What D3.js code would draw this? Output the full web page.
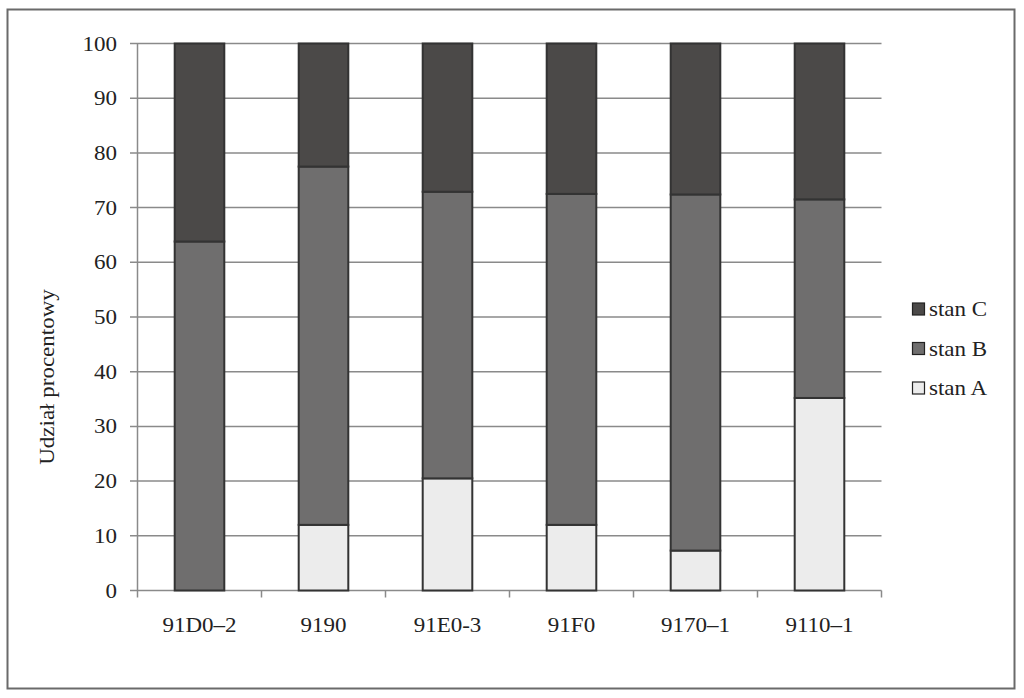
<!DOCTYPE html>
<html><head><meta charset="utf-8">
<script src="https://cdn.jsdelivr.net/npm/d3@7"></script>
<style>body{margin:0;background:#fff}svg{display:block}</style>
</head><body>
<svg id="c" width="1024" height="698"></svg>
<script>
const categories = ["91D0\u20132","9190","91E0-3","91F0","9170\u20131","9110\u20131"];
const stanA = [0, 12, 20.5, 12, 7.3, 35.2];
const stanB = [63.8, 65.5, 52.4, 60.5, 65.1, 36.3];
const stanC = [36.2, 22.5, 27.1, 27.5, 27.6, 28.5];
const seriesNames = ["stan A","stan B","stan C"];
const seriesColors = ["#ececec","#6f6e6e","#4b4948"];
const yTicks = [0,10,20,30,40,50,60,70,80,90,100];

const svg = d3.select("#c");
const font = "'Liberation Serif','Times New Roman',serif";
const fs = 20, sx = 1.15;
svg.append("rect").attr("x",7.5).attr("y",9.5).attr("width",1007).attr("height",679)
  .attr("fill","#fff").attr("stroke","#6a6a6a").attr("stroke-width",2);

const x = d3.scaleBand().domain(categories).range([137.5,881.5]).paddingInner(0.6).paddingOuter(0.3);
const y = d3.scaleLinear().domain([0,100]).range([590.5,43.5]);

function txt(g, tx, ty, rot, anchor, s){
  return g.append("text").attr("transform",`translate(${tx},${ty}) rotate(${rot}) scale(${sx},1)`)
    .attr("text-anchor",anchor).attr("font-family",font).attr("font-size",fs).attr("fill","#222").text(s);
}

// gridlines
svg.append("g").selectAll("line").data(yTicks).join("line")
  .attr("x1",130).attr("x2",881.5).attr("y1",d=>y(d)).attr("y2",d=>y(d))
  .attr("stroke","#8a8a8a").attr("stroke-width",1.5);
// y axis line
svg.append("line").attr("x1",137.5).attr("x2",137.5).attr("y1",y(100)).attr("y2",y(0))
  .attr("stroke","#8a8a8a").attr("stroke-width",1.5);
// x ticks
const bounds = d3.range(categories.length+1).map(i=>137.5+i*x.step());
svg.append("g").selectAll("line").data(bounds).join("line")
  .attr("x1",d=>d).attr("x2",d=>d).attr("y1",y(0)).attr("y2",y(0)+7)
  .attr("stroke","#8a8a8a").attr("stroke-width",1.5);

// y tick labels
const gy = svg.append("g");
yTicks.forEach(t=>txt(gy,117,y(t)+7,0,"end",t));
// x labels
const gx = svg.append("g");
categories.forEach(c=>txt(gx,x(c)+x.bandwidth()/2,632,0,"middle",c));
// y title
txt(svg,54,377,-90,"middle","Udział procentowy");

// stacked bars
const rows = categories.map((c,i)=>({cat:c,"stan A":stanA[i],"stan B":stanB[i],"stan C":stanC[i]}));
const stack = d3.stack().keys(seriesNames)(rows);
stack.forEach((layer,li)=>{
  svg.append("g").selectAll("rect").data(layer.filter(d=>d[1]-d[0]>0)).join("rect")
    .attr("x",d=>x(d.data.cat)).attr("width",x.bandwidth())
    .attr("y",d=>y(d[1])).attr("height",d=>y(d[0])-y(d[1]))
    .attr("fill",seriesColors[li]).attr("stroke","#333").attr("stroke-width",2);
});

// legend
const legendItems = ["stan C","stan B","stan A"];
const lg = svg.append("g");
legendItems.forEach((n,i)=>{
  const yy = 309 + i*39.5;
  lg.append("rect").attr("x",912.5).attr("y",yy-6).attr("width",12).attr("height",12)
    .attr("fill",seriesColors[seriesNames.indexOf(n)]).attr("stroke","#222").attr("stroke-width",1.2);
  txt(lg,929,yy+7,0,"start",n);
});
</script>
</body></html>
